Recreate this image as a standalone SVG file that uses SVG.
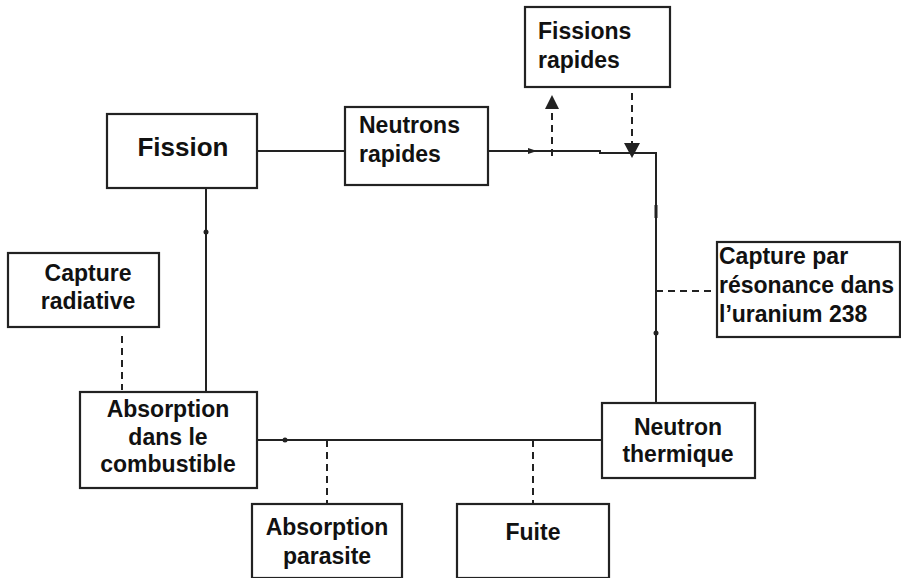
<svg xmlns="http://www.w3.org/2000/svg" width="901" height="578" viewBox="0 0 901 578">
<style>
.box{fill:#fff;stroke:#222;stroke-width:2.2}
.t{font-family:"Liberation Sans",Arial,sans-serif;font-weight:bold;font-size:23px;fill:#111}
.c{text-anchor:middle}
.ln{stroke:#222;stroke-width:2;fill:none}
.ds{stroke:#222;stroke-width:2;fill:none;stroke-dasharray:7,5}
</style>
<rect width="901" height="578" fill="#fff"/>
<g id="connectors">
<line class="ln" x1="257" y1="151" x2="345" y2="151"/>
<polyline class="ln" points="488,151 600,151 600,153 657,153"/>
<path d="M528,148 L537,151 L528,154 Z" fill="#222"/>
<line class="ln" x1="656" y1="153" x2="656" y2="403"/>
<rect x="654.5" y="205" width="3" height="13" fill="#222"/>
<circle cx="656" cy="333" r="2.5" fill="#222"/>
<line class="ds" x1="552" y1="156" x2="552" y2="108"/>
<path d="M552,95 L545,109 L559,109 Z" fill="#222"/>
<line class="ds" x1="632" y1="93" x2="632" y2="144"/>
<path d="M632,158 L624,143 L640,143 Z" fill="#222"/>
<line class="ds" x1="656" y1="291" x2="717" y2="291"/>
<line class="ln" x1="206" y1="188" x2="206" y2="392"/>
<circle cx="206" cy="232" r="2.5" fill="#222"/>
<line class="ds" x1="122" y1="336" x2="122" y2="390"/>
<line class="ln" x1="257" y1="440" x2="602" y2="440"/>
<circle cx="285" cy="440" r="2.5" fill="#222"/>
<line class="ds" x1="327" y1="440" x2="327" y2="504"/>
<line class="ds" x1="533" y1="440" x2="533" y2="504"/>
</g>
<g id="fission">
<rect class="box" x="107" y="114" width="150" height="74"/>
<text class="t c" x="183" y="156" style="font-size:26px">Fission</text>
</g>
<g id="neutrons-rapides">
<rect class="box" x="345" y="107" width="143" height="78"/>
<text class="t" x="359" y="133">Neutrons</text>
<text class="t" x="359" y="162">rapides</text>
</g>
<g id="fissions-rapides">
<rect class="box" x="525" y="7" width="145" height="80"/>
<text class="t" x="538" y="39">Fissions</text>
<text class="t" x="538" y="68">rapides</text>
</g>
<g id="capture-resonance">
<rect class="box" x="717" y="242" width="183" height="95"/>
<text class="t" x="719" y="264">Capture par</text>
<text class="t" x="719" y="293">résonance dans</text>
<text class="t" x="719" y="322">l’uranium 238</text>
</g>
<g id="capture-radiative">
<rect class="box" x="8" y="253" width="151" height="74"/>
<text class="t c" x="88" y="281">Capture</text>
<text class="t c" x="88" y="309">radiative</text>
</g>
<g id="absorption-combustible">
<rect class="box" x="80" y="392" width="177" height="96"/>
<text class="t c" x="168" y="417">Absorption</text>
<text class="t c" x="168" y="445">dans le</text>
<text class="t c" x="168" y="472">combustible</text>
</g>
<g id="neutron-thermique">
<rect class="box" x="602" y="403" width="153" height="75"/>
<text class="t c" x="678" y="435">Neutron</text>
<text class="t c" x="678" y="462">thermique</text>
</g>
<g id="absorption-parasite">
<rect class="box" x="252" y="504" width="150" height="74"/>
<text class="t c" x="327" y="535">Absorption</text>
<text class="t c" x="327" y="564">parasite</text>
</g>
<g id="fuite">
<rect class="box" x="457" y="504" width="152" height="74"/>
<text class="t c" x="533" y="540">Fuite</text>
</g>
</svg>
